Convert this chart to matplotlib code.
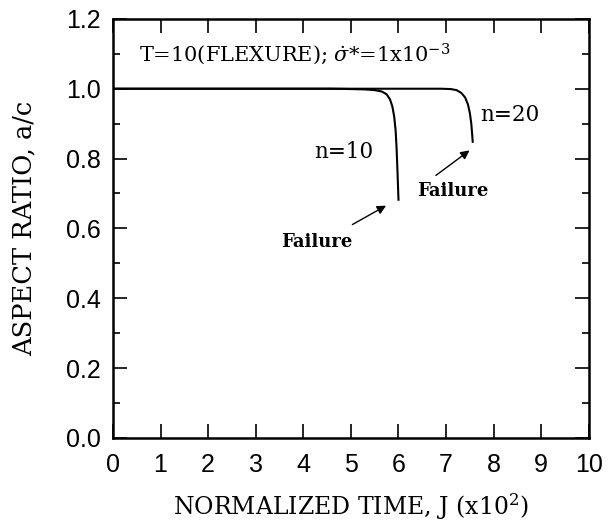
import matplotlib
matplotlib.use("Agg")
import matplotlib.pyplot as plt
from matplotlib.ticker import MultipleLocator

plt.rcParams['mathtext.fontset'] = 'dejavuserif'

# Data
n10_x = [0, 1, 2, 3, 4, 4.6, 5.0, 5.3, 5.5, 5.65, 5.75, 5.82, 5.87, 5.91, 5.94, 5.96, 5.98, 5.99, 6.0]
n10_y = [1.0, 1.0, 1.0, 1.0, 1.0, 1.0, 0.999, 0.998, 0.996, 0.992, 0.984, 0.97, 0.95, 0.92, 0.88, 0.83, 0.76, 0.72, 0.682]
n20_x = [0, 2, 4, 6, 6.9, 7.1, 7.22, 7.32, 7.4, 7.46, 7.5, 7.53, 7.56]
n20_y = [1.0, 1.0, 1.0, 1.0, 1.0, 0.999, 0.996, 0.988, 0.975, 0.955, 0.93, 0.9, 0.848]

x_ticks = [0, 1, 2, 3, 4, 5, 6, 7, 8, 9, 10]
y_ticks = [0.0, 0.2, 0.4, 0.6, 0.8, 1.0, 1.2]
y_tick_labels = ['0.0', '0.2', '0.4', '0.6', '0.8', '1.0', '1.2']

fig = plt.figure(figsize=(6.14, 5.25), dpi=100)
ax = fig.add_axes([0.184, 0.166, 0.775, 0.798])

ax.plot(n10_x, n10_y, color='black', lw=1.5)
ax.plot(n20_x, n20_y, color='black', lw=1.5)

ax.set_xlim(0, 10)
ax.set_ylim(0, 1.2)
ax.set_xticks(x_ticks)
ax.set_xticklabels([str(t) for t in x_ticks])
ax.set_yticks(y_ticks)
ax.set_yticklabels(y_tick_labels)
ax.yaxis.set_minor_locator(MultipleLocator(0.1))

for s in ax.spines.values():
    s.set_linewidth(1.8)

ax.tick_params(which='major', direction='in', length=10, width=1.2,
               top=True, right=True, labelsize=18)
ax.tick_params(axis='x', which='major', pad=11)
ax.tick_params(axis='y', which='major', pad=9)
ax.tick_params(which='minor', direction='in', length=5, width=1.2,
               top=False, right=True)
for lab in ax.get_xticklabels() + ax.get_yticklabels():
    lab.set_family('Liberation Sans')

serif = 'DejaVu Serif'
ax.set_xlabel(r'NORMALIZED TIME, J (x10$^2$)', family=serif, fontsize=17)
ax.set_ylabel('ASPECT RATIO, a/c', family=serif, fontsize=18.5)
ax.xaxis.set_label_coords(0.5, -0.128)
ax.yaxis.set_label_coords(-0.16, 0.5)

ax.text(0.55, 1.10, r'T=10(FLEXURE); $\dot{\sigma}$*=1x10$^{-3}$', family=serif,
        fontsize=15, ha='left', va='center')
ax.text(4.86, 0.82, 'n=10', family=serif, fontsize=15.5, ha='center', va='center')
ax.text(8.34, 0.925, 'n=20', family=serif, fontsize=15.5, ha='center', va='center')

ax.annotate('', xy=(5.79, 0.669), xytext=(4.98, 0.607),
            arrowprops=dict(arrowstyle='-|>', color='black', lw=1.0, mutation_scale=13))
ax.text(4.28, 0.56, 'Failure', family=serif, fontsize=13, ha='center', va='center',
        fontweight='bold')
ax.annotate('', xy=(7.54, 0.828), xytext=(6.74, 0.747),
            arrowprops=dict(arrowstyle='-|>', color='black', lw=1.0, mutation_scale=13))
ax.text(7.14, 0.707, 'Failure', family=serif, fontsize=13, ha='center', va='center',
        fontweight='bold')

fig.savefig('out.png', dpi=100)
